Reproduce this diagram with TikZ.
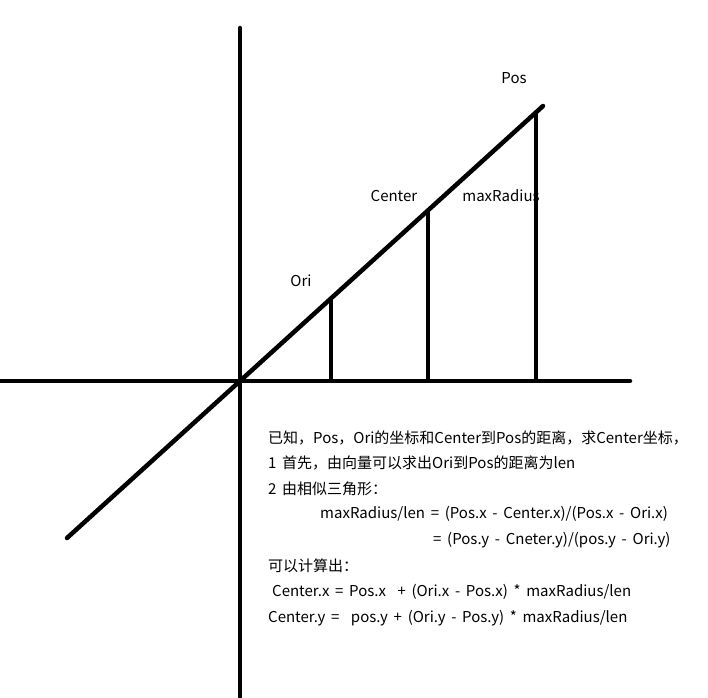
\documentclass[tikz,border=0pt]{standalone}
\usepackage{fontspec}
\setmainfont[WordSpace=1.7]{Noto Sans CJK SC}
\begin{document}
\begin{tikzpicture}[x=1pt,y=-1pt,
  thick line/.style={line width=4.5pt,line cap=round},
  lbl/.style={inner sep=0pt,font=\fontsize{15}{17}\selectfont},
  txt/.style={inner sep=0pt,anchor=west,font=\fontsize{15}{17}\selectfont}]
\useasboundingbox[fill=white] (0,0) rectangle (708,697);
% axes
\coordinate (ytop) at (240,28);
\coordinate (ybot) at (240,700);
\coordinate (xl) at (-5,381);
\coordinate (xr) at (630,381);
\draw[thick line] (ytop) -- (ybot);
\draw[thick line] (xl) -- (xr);
% diagonal
\coordinate (dlow) at (67,538);
\coordinate (dhigh) at (543,106);
\draw[thick line] (dlow) -- (dhigh);
% verticals
\coordinate (oriF) at (331,381);
\coordinate (ori) at (331,297.8);
\coordinate (cenF) at (428,381);
\coordinate (cen) at (428,209.6);
\coordinate (posF) at (536,381);
\coordinate (pos) at (536,111.4);
\draw[line width=4.5pt] (oriF) -- (ori);
\draw[line width=4.5pt] (cenF) -- (cen);
\draw[line width=4.5pt] (posF) -- (pos);
% labels
\node[lbl] (lpos) at (514,78) {Pos};
\node[lbl] (lcen) at (394,196) {Center};
\node[lbl] (lmax) at (501,196) {maxRadius};
\node[lbl] (lori) at (301,281) {Ori};
% text block
\node[txt] (t1) at (268,438) {已知，Pos，Ori的坐标和Center到Pos的距离，求Center坐标，};
\node[txt] (t2) at (268,463) {1 首先，由向量可以求出Ori到Pos的距离为len};
\node[txt] (t3) at (268,489) {2 由相似三角形：};
\node[txt] (t4) at (320,514) {maxRadius/len = (Pos.x - Center.x)/(Pos.x - Ori.x)};
\node[txt] (t5) at (433,540) {= (Pos.y - Cneter.y)/(pos.y - Ori.y)};
\node[txt] (t6) at (268,566) {可以计算出：};
\node[txt] (t7) at (272,592) {Center.x = Pos.x\ \ + (Ori.x - Pos.x) * maxRadius/len};
\node[txt] (t8) at (268,618) {Center.y =\ \ pos.y + (Ori.y - Pos.y) * maxRadius/len};
\end{tikzpicture}
\end{document}
